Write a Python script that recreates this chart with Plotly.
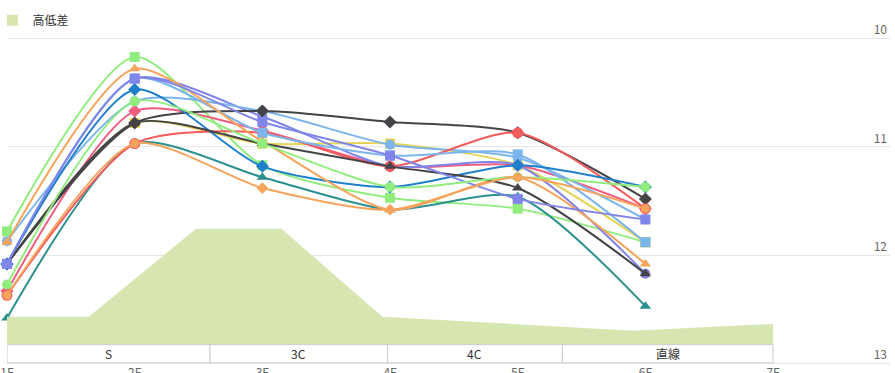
import plotly.graph_objects as go

# ---------------- data ----------------
floors = [1, 2, 3, 4, 5, 6]
floor_ticks = [1, 2, 3, 4, 5, 6, 7]
floor_labels = ["1F", "2F", "3F", "4F", "5F", "6F", "7F"]
y_ticks = [10, 11, 12, 13]

green_square = [11.78, 10.17, 11.17, 11.47, 11.57, 11.88]
yellow_square = [12.08, 10.78, 10.97, 10.97, 11.17, 11.88]
teal_triangle = [12.58, 10.97, 11.28, 11.58, 11.46, 12.47]
pink_diamond = [12.33, 10.67, 10.85, 11.18, 11.17, 11.57]
purple_circle = [12.08, 10.37, 10.72, 11.18, 11.17, 12.17]
lightblue_circle = [11.87, 10.58, 10.67, 10.98, 11.10, 11.67]
dark_diamond = [12.08, 10.78, 10.67, 10.77, 10.87, 11.48]
red_circle = [12.37, 10.97, 10.87, 11.18, 10.87, 11.57]
lightblue_square = [12.08, 10.37, 10.87, 11.08, 11.07, 11.88]
blue_diamond = [12.08, 10.47, 11.18, 11.37, 11.17, 11.37]
orange_triangle = [11.88, 10.28, 10.95, 11.58, 11.28, 12.08]
dark_triangle = [12.08, 10.78, 10.97, 11.18, 11.38, 12.17]
purple_square = [12.08, 10.37, 10.77, 11.08, 11.48, 11.67]
green_circle = [12.27, 10.58, 10.97, 11.37, 11.28, 11.37]
orange_circle = [12.37, 10.97, 11.38, 11.58, 11.28, 11.57]

area_name = "高低差"
area_x = [1.0, 1.64, 2.48, 3.15, 3.94, 5.9, 7.0]
area_h = [0.70, 0.70, 2.90, 2.90, 0.70, 0.35, 0.52]

section_labels = ["S", "3C", "4C", "直線"]
section_edges = [1.0, 2.59, 3.98, 5.35, 7.0]

# ---------------- styles ----------------
ORANGE_SYMS = ["circle", "circle", "diamond", "diamond", "circle", "circle"]
series = [
    (green_square, "#90ed7d", "square", 10),
    (yellow_square, "#e4d354", "square", 10),
    (teal_triangle, "#2b908f", "triangle-up", 10),
    (pink_diamond, "#f15c80", "diamond", 10),
    (purple_circle, "#8085e9", "circle", 10),
    (lightblue_circle, "#7cb5ec", "circle", 10),
    (dark_diamond, "#434348", "diamond", 10),
    (red_circle, "#f45b5b", "circle", 11),
    (lightblue_square, "#7cb5ec", "square", 10),
    (blue_diamond, "#1e7fcb", "diamond", 10),
    (orange_triangle, "#f7a35c", "triangle-up", 10),
    (dark_triangle, "#434348", "triangle-up", 10),
    (purple_square, "#8085e9", "square", 10),
    (green_circle, "#90ed7d", "circle", 10),
    (orange_circle, "#f7a35c", ORANGE_SYMS, 9),
]

FONT = "Noto Sans CJK JP, Noto Sans, sans-serif"
AREA_COLOR = "#d7e5b0"

fig = go.Figure()

fig.add_trace(go.Scatter(
    x=area_x, y=area_h, yaxis="y2", mode="lines", fill="tozeroy",
    fillcolor=AREA_COLOR, line=dict(width=0, color=AREA_COLOR),
    showlegend=False, hoverinfo="skip",
))
fig.add_trace(go.Scatter(
    x=[None], y=[None], mode="markers", name=area_name,
    marker=dict(symbol="square", size=11, color=AREA_COLOR),
    showlegend=True,
))

for vals, color, sym, size in series:
    fig.add_trace(go.Scatter(
        x=floors, y=vals, mode="lines+markers",
        line=dict(color=color, width=2, shape="spline", smoothing=0.7),
        marker=dict(symbol=sym, size=size, color=color, line=dict(width=0)),
        showlegend=False, cliponaxis=False,
    ))

band_top, band_bottom = 12.825, 12.993
for i, lab in enumerate(section_labels):
    x0, x1 = section_edges[i], section_edges[i + 1]
    fig.add_shape(type="rect", xref="x", yref="y", x0=x0, x1=x1,
                  y0=band_top, y1=band_bottom,
                  line=dict(color="#cccccc", width=1), fillcolor="white",
                  layer="above")
    fig.add_annotation(x=(x0 + x1) / 2, y=(band_top + band_bottom) / 2,
                       xref="x", yref="y", text=lab, showarrow=False,
                       font=dict(family=FONT, size=12, color="#333333"))

fig.update_layout(
    width=895, height=373,
    margin=dict(l=7, r=5, t=5.7, b=3.6, pad=0, autoexpand=False),
    paper_bgcolor="white", plot_bgcolor="white",
    showlegend=True,
    legend=dict(x=-0.0165, y=1.0008, xref="paper", yref="paper",
                xanchor="left", yanchor="top", itemwidth=30,
                font=dict(family=FONT, size=12, color="#333333"),
                bgcolor="rgba(0,0,0,0)"),
    xaxis=dict(range=[1, 7.916], tickmode="array", tickvals=floor_ticks,
               ticktext=floor_labels, showgrid=False, zeroline=False,
               showline=False, ticks="", automargin=False,
               ticklabelstandoff=-5,
               tickfont=dict(family=FONT, size=12, color="#666666")),
    yaxis=dict(range=[13.05, 9.7], tickmode="array", tickvals=y_ticks,
               side="right", ticklabelposition="inside top",
               showgrid=True, gridcolor="#e6e6e6", gridwidth=1,
               zeroline=False, showline=False, ticks="", automargin=False,
               tickfont=dict(family=FONT, size=12, color="#666666")),
    yaxis2=dict(overlaying="y", range=[-0.61, 8.4825], visible=False,
                showgrid=False, zeroline=False),
)

fig.write_html("out.html", config={"displayModeBar": False},
               post_script="document.body.style.margin='0';")
